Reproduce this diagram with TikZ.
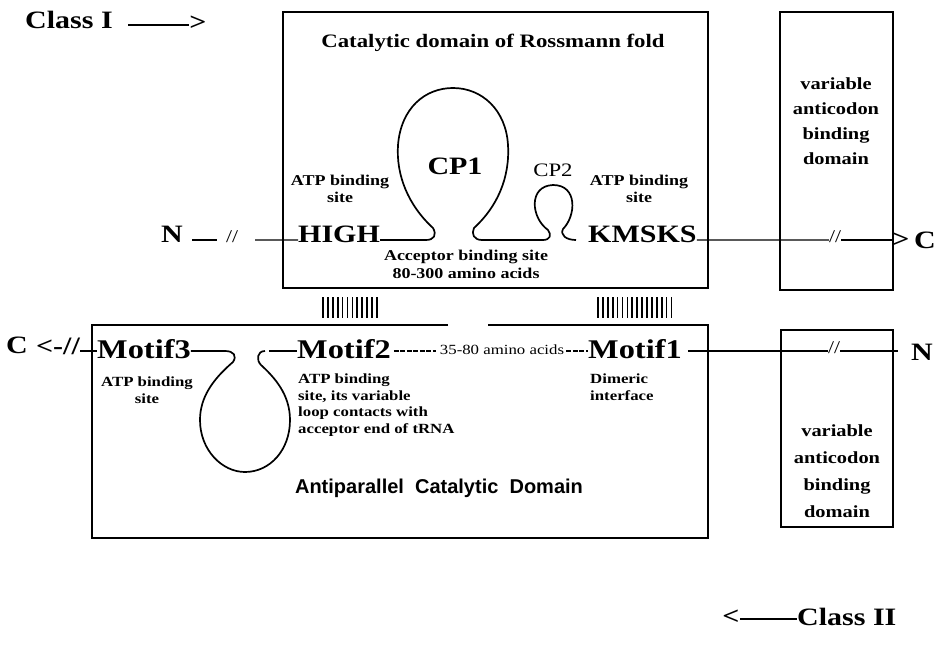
\documentclass[tikz,border=0pt]{standalone}
\usepackage{fontspec}
\setmainfont[FakeStretch=1.2]{Liberation Serif}
\newfontfamily\apsans{Liberation Sans}
\begin{document}
\begin{tikzpicture}[x=1bp,y=-1bp,
 big/.style={inner sep=0pt, font=\bfseries\fontsize{25bp}{30bp}\selectfont},
 motif/.style={inner sep=0pt, font=\bfseries\fontsize{27bp}{30bp}\selectfont},
 small/.style={inner sep=0pt, font=\bfseries\fontsize{15bp}{17bp}\selectfont, align=center},
 smaller/.style={inner sep=0pt, font=\bfseries\fontsize{14bp}{16.5bp}\selectfont},
 brk/.style={inner sep=0pt, font=\fontsize{18bp}{18bp}\selectfont},
 box/.style={draw, line width=2bp},
 chain/.style={line width=1.4bp},
 loopline/.style={line width=1.7bp, line join=round},
 dsh/.style={line width=1.3bp, dash pattern=on 5bp off 1.5bp},
 hatch/.style={line width=1.7bp},
 vbox/.style={inner sep=0pt, font=\bfseries\fontsize{17bp}{25bp}\selectfont, align=center}]
\useasboundingbox (0,0) rectangle (950,648);
\fill[white] (0,0) rectangle (950,648);

% ---------- Class I
\node[big, anchor=base] (classI) at (69,29) {Class I};
\node[big] (gtI) at (198,23) {>};
\coordinate (cIa) at (128,25);
\draw[chain] (cIa) -- (gtI.west |- cIa);

% ---------- boxes
\draw[box] (283,12) rectangle (708,288);
\draw[box] (780,12) rectangle (893,290);
\draw[box] (781,330) rectangle (893,527);
\draw[box] (448,325) -- (92,325) -- (92,538) -- (708,538) -- (708,325) -- (488,325);

% ---------- top box texts
\node[inner sep=0pt, font=\bfseries\fontsize{19bp}{22bp}\selectfont] (title) at (493,43) {Catalytic domain of Rossmann fold};
\node[small] (atpL) at (340,189) {ATP binding\\site};
\node[small] (atpR) at (639,189) {ATP binding\\site};
\node[big] (cp1) at (455,166) {CP1};
\node[inner sep=0pt, font=\fontsize{19bp}{22bp}\selectfont] (cp2) at (553,170) {CP2};
\node[small, font=\bfseries\fontsize{15bp}{18bp}\selectfont] (acc) at (466,264) {Acceptor binding site\\80-300 amino acids};

\node[vbox] (vtop) at (836,121) {variable\\anticodon\\binding\\domain};
\node[vbox, font=\bfseries\fontsize{17bp}{27bp}\selectfont] (vbot) at (837,471) {variable\\anticodon\\binding\\domain};

% ---------- top chain
\node[big, anchor=base] (Ntop) at (172,243) {N};
\node[brk] (sl1) at (232,237) {//};
\node[big, anchor=base west] (HIGH) at (298,243) {HIGH};
\node[big, anchor=base west] (KMSKS) at (588,243) {KMSKS};
\node[brk] (sl2) at (835,237) {//};
\node[big] (gtC) at (901,240) {>};
\node[big, anchor=base] (Ctop) at (925,249) {C};

\coordinate (t1) at (192,240);
\coordinate (t2) at (217,240);
\draw[chain] (t1) -- (t2);
\draw[chain] (255,240) -- ([yshift=3bp]HIGH.base west);
\draw[loopline] ([yshift=3bp]HIGH.base east) -- (426,240)
  .. controls (434,240) and (437,235) .. (433,228)
  .. controls (408,205) and (396,175) .. (398,145)
  .. controls (401,108) and (425,88) .. (453,88)
  .. controls (482,88) and (506,110) .. (508,145)
  .. controls (510,178) and (497,207) .. (474,228)
  .. controls (471,234) and (474,240) .. (482,240)
  -- (543,240)
  .. controls (550,240) and (552,235) .. (548,230)
  .. controls (531,218) and (528,186) .. (553,185)
  .. controls (578,185) and (576,216) .. (563,229)
  .. controls (560,235) and (566,240) .. (576,240);
\draw[chain] ([yshift=3bp]KMSKS.base east) -- (sl2.west |- t1);
\draw[chain] (sl2.east |- t1) -- (gtC.west |- t1);

% ---------- hatches
\foreach \i in {0,...,11} \draw[hatch] (323+\i*4.9,297) -- (323+\i*4.9,318);
\foreach \i in {0,...,15} \draw[hatch] (598+\i*4.9,297) -- (598+\i*4.9,318);

% ---------- bottom chain
\node[big, anchor=base] (Cbot) at (17,353) {C};
\node[big] (ltb) at (58,346) {<-//};
\node[motif, anchor=base west] (m3) at (97,358) {Motif3};
\node[motif, anchor=base west] (m2) at (297,358) {Motif2};
\node[inner sep=0pt, font=\fontsize{14bp}{16bp}\selectfont] (aa) at (502,350) {35-80 amino acids};
\node[motif, anchor=base west] (m1) at (588,358) {Motif1};
\node[brk] (sl3) at (834,348) {//};
\node[big, anchor=base] (Nbot) at (922,360) {N};

\coordinate (b1) at (0,351);
\draw[chain] (ltb.east |- b1) -- (m3.west |- b1);
\draw[loopline] (m3.east |- b1) -- (225,351)
  .. controls (234,351) and (237,356) .. (233,362)
  .. controls (212,380) and (200,398) .. (200,420)
  .. controls (200,450) and (222,472) .. (245,472)
  .. controls (270,472) and (290,450) .. (290,420)
  .. controls (290,394) and (274,377) .. (261,365)
  .. controls (256,360) and (257,351) .. (265,351);
\draw[chain] (269,351) -- (m2.west |- b1);
\draw[dsh] ([xshift=3bp]m2.east |- b1) -- ([xshift=-4bp]aa.west |- b1);
\draw[dsh] ([xshift=2bp]aa.east |- b1) -- (m1.west |- b1);
\draw[chain] ([xshift=6bp]m1.east |- b1) -- (sl3.west |- b1);
\draw[chain] (sl3.east |- b1) -- (898,351);

% ---------- bottom texts
\node[smaller, align=center] (atpB) at (147,390) {ATP binding\\site};
\node[smaller, align=left, anchor=north west] (atpB2) at (298,374) {ATP binding\\site, its variable\\loop contacts with\\acceptor end of tRNA};
\node[smaller, align=left, anchor=north west] (dim) at (590,374) {Dimeric\\interface};
\node[inner sep=0pt, font=\apsans\bfseries\fontsize{20bp}{22bp}\selectfont] (anti) at (439,488) {Antiparallel\ \ Catalytic\ \ Domain};

% ---------- Class II
\node[big, anchor=base west] (classII) at (797,625) {Class II};
\node[big] (ltII) at (731,617) {<};
\draw[chain] (ltII.east |- 0,619) -- (classII.west |- 0,619);
\end{tikzpicture}
\end{document}
